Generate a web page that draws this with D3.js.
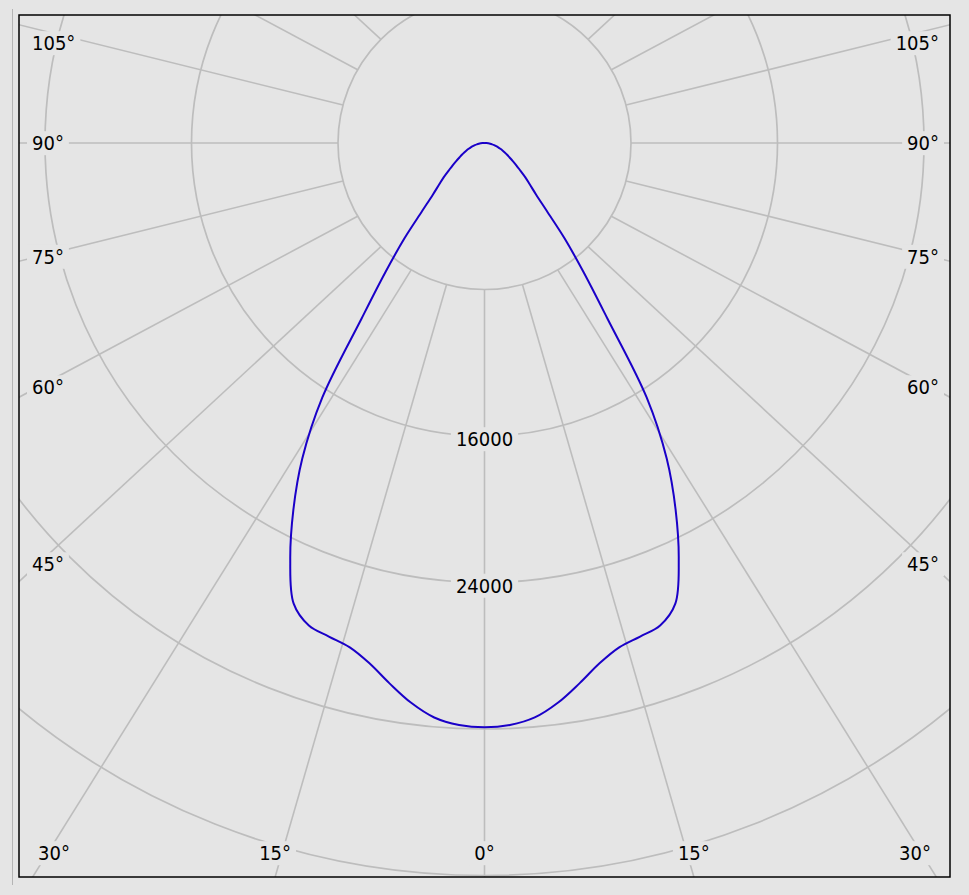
<!DOCTYPE html>
<html>
<head>
<meta charset="utf-8">
<script src="https://cdn.jsdelivr.net/npm/d3@7"></script>
<style>
html,body{margin:0;padding:0;background:#e5e5e5;}
svg{display:block;}
</style>
</head>
<body>
<svg id="chart" width="969" height="895"></svg>
<script>
// ---- data ----
const halfAngles = [0,2.5,5,7.5,10,12.5,15,17.5,20,22.5,25,27.5,30,32.5,35,37.5,40,42.5,45,47.5,50,52.5,55,57.5,60,62.5,65,67.5,70,72.5,75,77.5,80,82.5,85,87.5,90];
const intensityRight = [31910,31810,31490,30820,29950,29090,28500,28260,28040,27230,25100,22610,19900,16490,11700,8880,6810,5040,3990,3360,2900,2456,2121,1833,1583,1393,1221,1065,919,785,659,539,425,316,209,103,0];
const intensityLeft  = [31910,31810,31490,30820,29950,29090,28500,28260,28040,27230,25100,22610,19900,16490,11700,8880,6810,5040,3990,3360,2900,2456,2121,1833,1583,1393,1221,1065,919,785,659,539,425,316,209,103,0];
const ringValues = [8000,16000,24000,32000,40000];
const ringLabelValues = [16000,24000];
const spokeAngles = [-135,-120,-105,-90,-75,-60,-45,-30,-15,0,15,30,45,60,75,90,105,120,135];
const labelAngles = [-105,-90,-75,-60,-45,-30,-15,0,15,30,45,60,75,90,105];

// ---- layout ----
const plot = {x0:19, y0:15, x1:950, y1:877};
const cx = (plot.x0 + plot.x1) / 2;
const cy = 143;
const aspect = (plot.x1 - plot.x0) / (plot.y1 - plot.y0);
const FONT = '"DejaVu Sans Condensed","Liberation Sans",Arial,sans-serif';
const FS = 20;
const BG = '#e5e5e5';
const GRID = '#bdbdbd';

const rScale = d3.scaleLinear().domain([0, 40000]).range([0, 732.5]);

const svg = d3.select('#chart');
svg.append('rect').attr('width',969).attr('height',895).attr('fill',BG);
svg.append('line').attr('x1',12.5).attr('x2',12.5).attr('y1',9).attr('y2',885)
  .attr('stroke','#b5b5b5').attr('stroke-width',1);

svg.append('defs').append('clipPath').attr('id','plotclip')
  .append('rect').attr('x',plot.x0).attr('y',plot.y0)
  .attr('width',plot.x1-plot.x0).attr('height',plot.y1-plot.y0);

const g = svg.append('g').attr('clip-path','url(#plotclip)');
g.append('rect').attr('x',plot.x0).attr('y',plot.y0)
  .attr('width',plot.x1-plot.x0).attr('height',plot.y1-plot.y0).attr('fill',BG);

// rings
g.append('g').selectAll('circle').data(ringValues).join('circle')
  .attr('cx',cx).attr('cy',cy).attr('r',d=>rScale(d))
  .attr('fill','none').attr('stroke',GRID).attr('stroke-width',1.7);

// spokes
const rad = d => d*Math.PI/180;
function spokeGeom(a){
  const t = rad(a);
  const ux = Math.sin(t), uy = Math.cos(t);
  const r0 = rScale(ringValues[0]);
  const px = cx + r0*ux, py = cy + r0*uy;
  const vx = ux*aspect, vy = uy;
  return {px,py,vx,vy};
}
g.append('g').selectAll('line').data(spokeAngles).join('line')
  .each(function(a){
    const s = spokeGeom(a);
    d3.select(this).attr('x1',s.px).attr('y1',s.py)
      .attr('x2',s.px+3000*s.vx).attr('y2',s.py+3000*s.vy);
  })
  .attr('stroke',GRID).attr('stroke-width',1.6);

// labels with background boxes
const labelLayer = g.append('g');
function addLabel(x, y, txt, anchor){
  const grp = labelLayer.append('g');
  const rect = grp.append('rect').attr('fill',BG);
  const text = grp.append('text').attr('x',x).attr('y',y).attr('dy','0.36em')
    .attr('text-anchor',anchor).attr('font-family',FONT).attr('font-size',FS)
    .attr('fill','#000').text(txt);
  const bb = text.node().getBBox();
  rect.attr('x',bb.x-5).attr('y',bb.y).attr('width',bb.width+10).attr('height',bb.height);
}

labelAngles.forEach(a=>{
  const s = spokeGeom(a);
  let tx = Infinity, ty = Infinity;
  if (s.vx < -1e-9) tx = (plot.x0 - s.px)/s.vx;
  else if (s.vx > 1e-9) tx = (plot.x1 - s.px)/s.vx;
  if (s.vy > 1e-9) ty = (plot.y1 - s.py)/s.vy;
  else if (s.vy < -1e-9) ty = (plot.y0 - s.py)/s.vy;
  const txt = Math.abs(a) + '°';
  if (ty <= tx) {
    let x = s.px + ty*s.vx;
    x = Math.max(plot.x0+35, Math.min(plot.x1-35, x));
    addLabel(x, plot.y1-24, txt, 'middle');
  } else if (s.vx < 0) {
    const xr = plot.x0 + 19;
    let y = s.py + (xr - s.px)/s.vx*s.vy;
    y = Math.max(plot.y0+28, Math.min(plot.y1-24, y));
    addLabel(plot.x0+13, y, txt, 'start');
  } else {
    const xr = plot.x1 - 19;
    let y = s.py + (xr - s.px)/s.vx*s.vy;
    y = Math.max(plot.y0+28, Math.min(plot.y1-24, y));
    addLabel(plot.x1-11, y, txt, 'end');
  }
});

ringLabelValues.forEach(v=>{
  addLabel(cx, cy + rScale(v) + 3, String(v), 'middle');
});

// intensity curve
const pts = [];
for (let i = halfAngles.length-1; i >= 0; i--) pts.push([-halfAngles[i], intensityLeft[i]]);
for (let i = 1; i < halfAngles.length; i++) pts.push([halfAngles[i], intensityRight[i]]);

const line = d3.lineRadial()
  .angle(d => Math.PI - rad(d[0]))
  .radius(d => rScale(d[1]))
  .curve(d3.curveCatmullRom.alpha(0.5));

g.append('path').attr('transform',`translate(${cx},${cy})`)
  .attr('d', line(pts)).attr('fill','none')
  .attr('stroke','#1a00c8').attr('stroke-width',2);

// border
svg.append('rect').attr('x',plot.x0).attr('y',plot.y0)
  .attr('width',plot.x1-plot.x0).attr('height',plot.y1-plot.y0)
  .attr('fill','none').attr('stroke','#000').attr('stroke-width',1.5);
</script>
</body>
</html>
